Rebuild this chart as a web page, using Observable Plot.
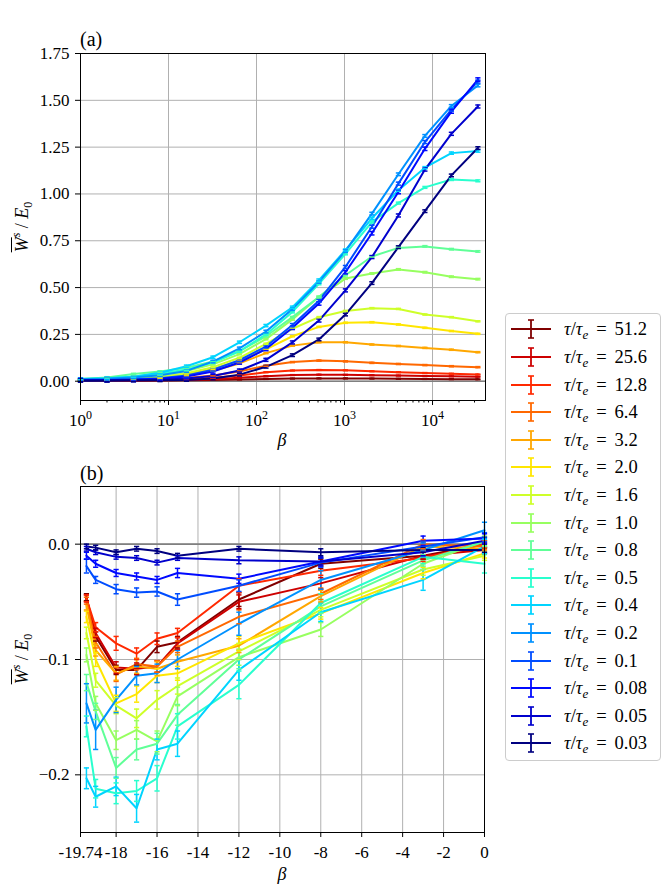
<!DOCTYPE html>
<html><head><meta charset="utf-8">
<script src="https://cdn.jsdelivr.net/npm/d3@7"></script>
<script src="https://cdn.jsdelivr.net/npm/@observablehq/plot@0.6"></script>
<style>
body{margin:0;background:#fff;font-family:"Liberation Serif","DejaVu Serif",serif;color:#000;}
#fig{position:relative;width:664px;height:886px;overflow:hidden;background:#fff;}
svg text{font-family:"Liberation Serif","DejaVu Serif",serif;}
.abs{position:absolute;line-height:1;white-space:nowrap;}
.ylab{font-size:18px;transform:translate(-50%,-50%) rotate(-90deg);}
.ol{text-decoration:overline;font-style:italic;}
.sup{font-size:12px;position:relative;top:-8px;font-style:italic;}
.sub0{font-size:12px;position:relative;top:4px;}
.sube{font-size:13px;position:relative;top:4px;font-style:italic;}
.eq{margin:0 8px;}
#legend{position:absolute;left:505px;top:313px;width:156px;height:448px;box-sizing:border-box;border:1px solid #cccccc;border-radius:4px;background:#fff;}
.lrow{position:absolute;left:58px;font-size:18.5px;line-height:1;transform:translateY(-50%);white-space:nowrap;}
</style></head><body><div id="fig"></div>
<script>
// ---------- labels, colours, ticks ----------
const tauLabels = ["51.2","25.6","12.8","6.4","3.2","2.0","1.6","1.0","0.8","0.5","0.4","0.2","0.1","0.08","0.05","0.03"];
const jetColors = ["#800000","#cd0000","#ff2900","#ff6800","#ffa700","#ffe600","#ceff29","#97ff60","#60ff97","#29ffce","#00d4ff","#0091ff","#004dff","#0009ff","#0000cd","#000080"];
const betaA = [1,2,4,8,16,32,64,128,256,512,1024,2048,4096,8192,16384,32768];
const betaB = [-19.45,-19,-18,-17,-16,-15,-12,-8,-3,0];
const xTicksA = [1,10,100,1000,10000];
const xMinorA = [2,3,4,5,6,7,8,9,20,30,40,50,60,70,80,90,200,300,400,500,600,700,800,900,2000,3000,4000,5000,6000,7000,8000,9000,20000,30000];
const yTicksA = [0,0.25,0.5,0.75,1,1.25,1.5,1.75];
const xTicksB = [-19.74,-18,-16,-14,-12,-10,-8,-6,-4,-2,0];
const yTicksB = [-0.2,-0.1,0];

// ---------- panel (a) values ----------
const a_51_2 = [0.002,0.002,0.003,0.004,0.005,0.007,0.009,0.012,0.014,0.015,0.015,0.014,0.013,0.012,0.011,0.010];
const a_25_6 = [0.002,0.003,0.004,0.005,0.007,0.011,0.018,0.027,0.033,0.035,0.034,0.032,0.030,0.028,0.026,0.024];
const a_12_8 = [0.003,0.004,0.005,0.007,0.011,0.018,0.031,0.048,0.057,0.060,0.058,0.053,0.048,0.044,0.040,0.036];
const a_6_4  = [0.004,0.005,0.007,0.010,0.017,0.030,0.052,0.083,0.102,0.110,0.106,0.098,0.092,0.086,0.080,0.075];
const a_3_2  = [0.005,0.007,0.010,0.017,0.030,0.055,0.095,0.150,0.190,0.208,0.208,0.196,0.188,0.178,0.168,0.155];
const a_2_0  = [0.006,0.008,0.012,0.020,0.036,0.065,0.110,0.170,0.240,0.290,0.312,0.315,0.303,0.285,0.268,0.253];
const a_1_6  = [0.007,0.009,0.014,0.024,0.042,0.075,0.125,0.200,0.280,0.342,0.375,0.390,0.386,0.356,0.342,0.320];
const a_1_0  = [0.010,0.014,0.022,0.035,0.055,0.090,0.145,0.225,0.330,0.450,0.548,0.575,0.597,0.582,0.558,0.545];
const a_0_8  = [0.012,0.020,0.038,0.052,0.072,0.105,0.160,0.240,0.342,0.450,0.566,0.666,0.712,0.720,0.705,0.693];
const a_0_5  = [0.012,0.016,0.025,0.040,0.062,0.100,0.160,0.250,0.370,0.520,0.680,0.850,0.951,1.035,1.077,1.070];
const a_0_4  = [0.012,0.016,0.024,0.045,0.080,0.128,0.208,0.297,0.395,0.540,0.700,0.870,1.020,1.140,1.218,1.229];
const a_0_2  = [0.010,0.013,0.020,0.032,0.055,0.105,0.175,0.265,0.385,0.530,0.695,0.895,1.105,1.310,1.470,1.579];
const a_0_1  = [0.006,0.007,0.010,0.016,0.030,0.062,0.112,0.185,0.300,0.430,0.610,0.825,1.055,1.277,1.450,1.600];
const a_0_08 = [0.005,0.006,0.008,0.013,0.025,0.052,0.100,0.172,0.285,0.415,0.582,0.790,1.010,1.241,1.440,1.611];
const a_0_05 = [0.004,0.005,0.006,0.008,0.014,0.028,0.057,0.114,0.207,0.324,0.485,0.663,0.885,1.130,1.321,1.467];
const a_0_03 = [0.003,0.003,0.004,0.005,0.007,0.015,0.035,0.077,0.139,0.223,0.356,0.524,0.716,0.908,1.099,1.245];
const errA = [0.002,0.002,0.002,0.003,0.003,0.003,0.003,0.004,0.004,0.005,0.006,0.007,0.008,0.009,0.008,0.007];

// ---------- panel (b) values ----------
const b_51_2 = [-0.046,-0.080,-0.109,-0.109,-0.089,-0.085,-0.048,-0.017,-0.010,0.000];
const b_25_6 = [-0.047,-0.077,-0.107,-0.108,-0.106,-0.086,-0.050,-0.034,-0.010,-0.005];
const b_12_8 = [-0.047,-0.072,-0.086,-0.095,-0.082,-0.077,-0.036,-0.023,-0.012,0.000];
const b_6_4  = [-0.049,-0.085,-0.113,-0.104,-0.106,-0.089,-0.063,-0.043,0.000,-0.002];
const b_3_2  = [-0.053,-0.092,-0.112,-0.106,-0.108,-0.102,-0.088,-0.045,-0.002,-0.004];
const b_2_0  = [-0.063,-0.100,-0.138,-0.130,-0.114,-0.112,-0.086,-0.060,-0.025,-0.008];
const b_1_6  = [-0.077,-0.118,-0.140,-0.151,-0.135,-0.123,-0.093,-0.057,-0.022,-0.010];
const b_1_0  = [-0.096,-0.138,-0.170,-0.161,-0.171,-0.132,-0.098,-0.074,-0.017,0.003];
const b_0_8  = [-0.120,-0.145,-0.194,-0.178,-0.173,-0.148,-0.100,-0.054,-0.014,0.002];
const b_0_5  = [-0.158,-0.212,-0.216,-0.214,-0.203,-0.158,-0.122,-0.051,-0.011,-0.017];
const b_0_4  = [-0.203,-0.219,-0.210,-0.229,-0.178,-0.173,-0.109,-0.059,-0.031,-0.002];
const b_0_2  = [-0.138,-0.161,-0.135,-0.114,-0.112,-0.100,-0.069,-0.031,-0.005,0.012];
const b_0_1  = [-0.019,-0.031,-0.039,-0.042,-0.041,-0.048,-0.036,-0.016,-0.002,0.006];
const b_0_08 = [-0.010,-0.017,-0.025,-0.028,-0.031,-0.025,-0.030,-0.015,0.003,0.005];
const b_0_05 = [-0.004,-0.007,-0.011,-0.012,-0.016,-0.012,-0.014,-0.015,-0.007,0.003];
const b_0_03 = [-0.002,-0.003,-0.007,-0.004,-0.006,-0.010,-0.004,-0.007,-0.005,-0.005];

const eb_51_2 = [0.003,0.004,0.004,0.004,0.005,0.005,0.006,0.004,0.003,0.003];
const eb_25_6 = [0.003,0.004,0.005,0.005,0.005,0.005,0.006,0.005,0.003,0.003];
const eb_12_8 = [0.003,0.004,0.006,0.005,0.005,0.004,0.006,0.004,0.003,0.003];
const eb_6_4  = [0.003,0.005,0.006,0.005,0.005,0.005,0.006,0.005,0.004,0.003];
const eb_3_2  = [0.004,0.005,0.006,0.006,0.006,0.006,0.006,0.005,0.004,0.004];
const eb_2_0  = [0.005,0.006,0.007,0.007,0.006,0.006,0.006,0.005,0.005,0.004];
const eb_1_6  = [0.005,0.006,0.007,0.008,0.008,0.007,0.007,0.006,0.005,0.004];
const eb_1_0  = [0.006,0.006,0.008,0.008,0.009,0.008,0.007,0.006,0.005,0.004];
const eb_0_8  = [0.007,0.007,0.009,0.009,0.009,0.009,0.008,0.006,0.005,0.004];
const eb_0_5  = [0.009,0.008,0.009,0.009,0.011,0.011,0.012,0.008,0.006,0.008];
const eb_0_4  = [0.009,0.009,0.008,0.012,0.009,0.011,0.009,0.008,0.009,0.006];
const eb_0_2  = [0.017,0.017,0.011,0.008,0.008,0.008,0.010,0.008,0.006,0.007];
const eb_0_1  = [0.006,0.003,0.004,0.004,0.004,0.005,0.005,0.004,0.004,0.004];
const eb_0_08 = [0.003,0.003,0.003,0.003,0.003,0.004,0.004,0.004,0.004,0.004];
const eb_0_05 = [0.002,0.002,0.002,0.002,0.002,0.002,0.003,0.003,0.003,0.003];
const eb_0_03 = [0.002,0.002,0.002,0.002,0.002,0.002,0.002,0.003,0.002,0.002];

const seriesA = [a_51_2,a_25_6,a_12_8,a_6_4,a_3_2,a_2_0,a_1_6,a_1_0,a_0_8,a_0_5,a_0_4,a_0_2,a_0_1,a_0_08,a_0_05,a_0_03];
const seriesB = [b_51_2,b_25_6,b_12_8,b_6_4,b_3_2,b_2_0,b_1_6,b_1_0,b_0_8,b_0_5,b_0_4,b_0_2,b_0_1,b_0_08,b_0_05,b_0_03];
const errB = [eb_51_2,eb_25_6,eb_12_8,eb_6_4,eb_3_2,eb_2_0,eb_1_6,eb_1_0,eb_0_8,eb_0_5,eb_0_4,eb_0_2,eb_0_1,eb_0_08,eb_0_05,eb_0_03];

// ---------- tidy tables ----------
const dataA = [];
seriesA.forEach((s, i) => s.forEach((w, j) => dataA.push({tau: tauLabels[i], beta: betaA[j], w, e: errA[i]})));
const dataB = [];
seriesB.forEach((s, i) => s.forEach((w, j) => dataB.push({tau: tauLabels[i], beta: betaB[j], w, e: errB[i][j]})));

const FONT = '"Liberation Serif","DejaVu Serif",serif';
const cap = {draw(ctx, size) { const w = Math.sqrt(size / Math.PI); ctx.moveTo(-w, 0); ctx.lineTo(w, 0); }};
const gridStyle = {stroke: "#b0b0b0", strokeOpacity: 1, strokeWidth: 1};

function seriesMarks(data) {
  return [
    Plot.ruleX(data, {x: "beta", y1: d => d.w - d.e, y2: d => d.w + d.e, stroke: "tau", strokeWidth: 1.5}),
    Plot.line(data, {x: "beta", y: "w", z: "tau", stroke: "tau", strokeWidth: 2}),
    Plot.dot(data, {x: "beta", y: d => d.w + d.e, symbol: cap, r: 2.6, stroke: "tau", fill: "none", strokeWidth: 1.5}),
    Plot.dot(data, {x: "beta", y: d => d.w - d.e, symbol: cap, r: 2.6, stroke: "tau", fill: "none", strokeWidth: 1.5})
  ];
}

const plotA = Plot.plot({
  width: 500, height: 440, marginLeft: 80, marginRight: 15, marginTop: 53, marginBottom: 40,
  x: {type: "log", domain: [1, 40000], axis: null},
  y: {domain: [-0.103, 1.75], axis: null},
  color: {domain: tauLabels, range: jetColors},
  style: {fontFamily: FONT, fontSize: "17px", background: "transparent", color: "black"},
  marks: [
    Plot.gridX({ticks: xTicksA, ...gridStyle}),
    Plot.gridY({ticks: yTicksA, ...gridStyle}),
    Plot.ruleY([0], {stroke: "#808080", strokeWidth: 1.6}),
    ...seriesMarks(dataA),
    Plot.axisX({ticks: xTicksA, tickFormat: d => "10^" + Math.round(Math.log10(d)), tickSize: 5, tickPadding: 8, label: null}),
    Plot.axisX({ticks: xMinorA, tickSize: 2.5, tickFormat: () => "", label: null}),
    Plot.axisY({ticks: yTicksA, tickFormat: d3.format(".2f"), tickSize: 5, tickPadding: 6, label: null}),
    Plot.frame({stroke: "black", strokeWidth: 1})
  ]
});

const plotB = Plot.plot({
  width: 500, height: 446, marginLeft: 80, marginRight: 16, marginTop: 46, marginBottom: 54,
  x: {domain: [-19.74, 0], axis: null},
  y: {domain: [-0.25, 0.05], axis: null},
  color: {domain: tauLabels, range: jetColors},
  style: {fontFamily: FONT, fontSize: "17px", background: "transparent", color: "black"},
  marks: [
    Plot.gridX({ticks: xTicksB, ...gridStyle}),
    Plot.gridY({ticks: yTicksB, ...gridStyle}),
    Plot.ruleY([0], {stroke: "#808080", strokeWidth: 1.6}),
    ...seriesMarks(dataB),
    Plot.axisX({ticks: xTicksB, tickFormat: d => String(d), tickSize: 5, tickPadding: 8, label: null}),
    Plot.axisY({ticks: yTicksB, tickFormat: d => d === 0 ? "0.0" : "\u2212" + Math.abs(d).toFixed(1), tickSize: 5, tickPadding: 6, label: null}),
    Plot.frame({stroke: "black", strokeWidth: 1})
  ]
});

// superscript exponents for the log axis
const NS = "http://www.w3.org/2000/svg";
plotA.querySelectorAll('g[aria-label="x-axis tick label"] text').forEach(t => {
  const s = t.textContent;
  if (!s.includes("^")) return;
  const [b, e] = s.split("^");
  t.textContent = "";
  const t1 = document.createElementNS(NS, "tspan"); t1.textContent = b;
  const t2 = document.createElementNS(NS, "tspan"); t2.textContent = e;
  t2.setAttribute("dy", "-7"); t2.setAttribute("font-size", "12px");
  t.append(t1, t2);
});

const fig = document.getElementById("fig");
plotA.style.position = "absolute"; plotA.style.left = "0px"; plotA.style.top = "0px";
plotB.style.position = "absolute"; plotB.style.left = "0px"; plotB.style.top = "440px";
fig.append(plotA, plotB);

function addDiv(html, cls, left, top, extra) {
  const d = document.createElement("div");
  d.className = "abs " + (cls || "");
  d.innerHTML = html;
  d.style.left = left + "px"; d.style.top = top + "px";
  if (extra) Object.assign(d.style, extra);
  fig.appendChild(d);
  return d;
}
const ylabHTML = '<span class="ol">W</span><span class="sup">s</span> / <i>E</i><span class="sub0">0</span>';
addDiv("(a)", "", 80, 39, {fontSize: "20px", transform: "translateY(-50%)"});
addDiv("(b)", "", 80, 473, {fontSize: "20px", transform: "translateY(-50%)"});
addDiv(ylabHTML, "ylab", 22, 227);
addDiv(ylabHTML, "ylab", 22, 659);
addDiv("<i>β</i>", "", 282, 440, {fontSize: "18px", transform: "translate(-50%,-50%)"});
addDiv("<i>β</i>", "", 282, 874, {fontSize: "18px", transform: "translate(-50%,-50%)"});

// legend
const legend = document.createElement("div");
legend.id = "legend";
fig.appendChild(legend);
tauLabels.forEach((lab, i) => {
  const cy = 15.3 + 27.6 * i;
  const svg = d3.create("svg").attr("width", 44).attr("height", 24)
    .style("position", "absolute").style("left", "4px").style("top", (cy - 12) + "px");
  const c = jetColors[i];
  svg.append("line").attr("x1", 1).attr("x2", 41).attr("y1", 12).attr("y2", 12).attr("stroke", c).attr("stroke-width", 2);
  svg.append("line").attr("x1", 21).attr("x2", 21).attr("y1", 3).attr("y2", 21).attr("stroke", c).attr("stroke-width", 1.8);
  svg.append("line").attr("x1", 18).attr("x2", 24).attr("y1", 3).attr("y2", 3).attr("stroke", c).attr("stroke-width", 1.6);
  svg.append("line").attr("x1", 18).attr("x2", 24).attr("y1", 21).attr("y2", 21).attr("stroke", c).attr("stroke-width", 1.6);
  legend.appendChild(svg.node());
  const t = document.createElement("div");
  t.className = "lrow";
  t.style.top = cy + "px";
  t.innerHTML = '<i>τ</i>/<i>τ</i><span class="sube">e</span><span class="eq">=</span>' + lab;
  legend.appendChild(t);
});
</script>
</body></html>
